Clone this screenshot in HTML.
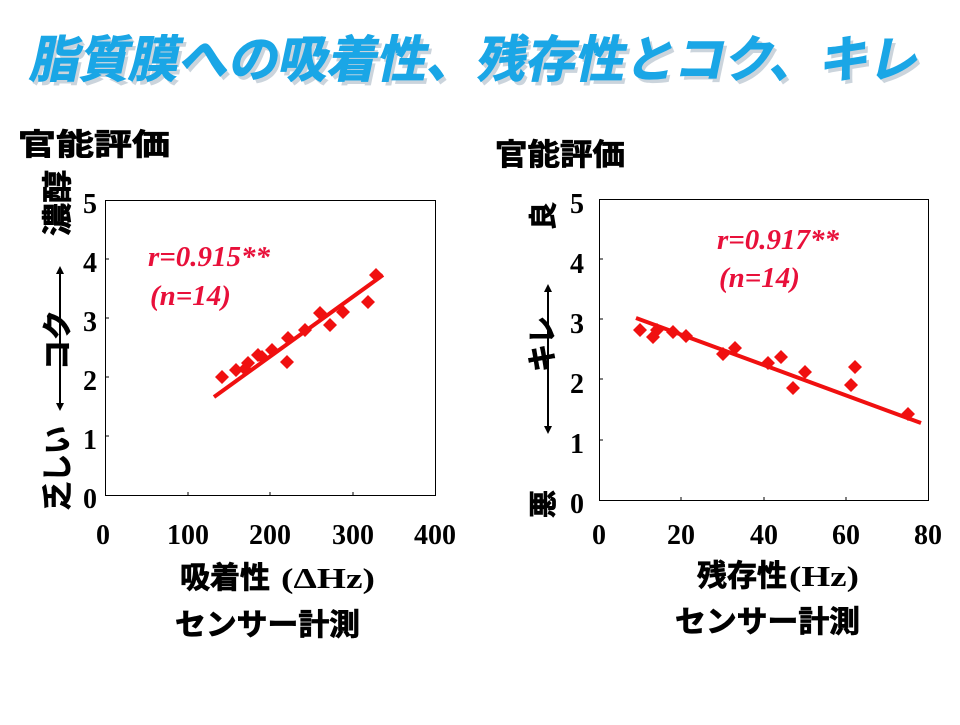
<!DOCTYPE html>
<html><head><meta charset="utf-8"><style>
html,body{margin:0;padding:0;background:#fff;}
</style></head><body>
<svg width="960" height="720" viewBox="0 0 960 720" xmlns="http://www.w3.org/2000/svg">
<rect width="960" height="720" fill="#fff"/>
<g font-family="'Liberation Sans','Noto Sans CJK JP',sans-serif" font-weight="bold">
<g transform="skewX(-12) translate(14,0)">
<text x="33" y="79" font-size="50" fill="#9ab" opacity="0.5" textLength="888" lengthAdjust="spacingAndGlyphs" transform="translate(2,2)">脂質膜への吸着性、残存性とコク、キレ</text>
<text x="31" y="77" font-size="50" fill="#1aa6e6" stroke="#1aa6e6" stroke-width="1" textLength="888" lengthAdjust="spacingAndGlyphs">脂質膜への吸着性、残存性とコク、キレ</text>
</g>
</g>
<g font-family="'Liberation Sans','Noto Sans CJK JP',sans-serif" font-weight="bold" fill="#000" stroke="#000" stroke-width="0.8">
<text x="18" y="155" font-size="30" textLength="152" lengthAdjust="spacingAndGlyphs">官能評価</text>
<text x="495" y="165" font-size="30" textLength="130" lengthAdjust="spacingAndGlyphs">官能評価</text>
<text x="180" y="588" font-size="30" textLength="90" lengthAdjust="spacingAndGlyphs">吸着性</text>
<text x="697" y="586" font-size="30" textLength="90" lengthAdjust="spacingAndGlyphs">残存性</text>
<text x="175" y="635" font-size="30" textLength="185" lengthAdjust="spacingAndGlyphs">センサー計測</text>
<text x="675" y="632" font-size="30" textLength="185" lengthAdjust="spacingAndGlyphs">センサー計測</text>
<text transform="translate(68,236) rotate(-90)" font-size="30" textLength="66" lengthAdjust="spacingAndGlyphs">濃醇</text>
<text transform="translate(68,370) rotate(-90)" font-size="30" textLength="60" lengthAdjust="spacingAndGlyphs">コク</text>
<text transform="translate(68,510) rotate(-90)" font-size="30" textLength="84" lengthAdjust="spacingAndGlyphs">乏しい</text>
<text transform="translate(553,230) rotate(-90)" font-size="28">良</text>
<text transform="translate(553,372) rotate(-90)" font-size="30" textLength="56" lengthAdjust="spacingAndGlyphs">キレ</text>
<text transform="translate(553,518) rotate(-90)" font-size="28">悪</text>
</g>
<g font-family="'Liberation Serif',serif" font-weight="bold" font-size="28" fill="#000">
<text x="281" y="588" font-size="29" textLength="94" lengthAdjust="spacingAndGlyphs">(ΔHz)</text>
<text x="789" y="586" font-size="29" textLength="70" lengthAdjust="spacingAndGlyphs">(Hz)</text>
<g text-anchor="end">
<text x="97" y="213">5</text><text x="97" y="272">4</text><text x="97" y="331">3</text><text x="97" y="390">2</text><text x="97" y="449">1</text><text x="97" y="508">0</text>
<text x="584" y="213">5</text><text x="584" y="273">4</text><text x="584" y="333">3</text><text x="584" y="393">2</text><text x="584" y="453">1</text><text x="584" y="513">0</text>
</g>
<g text-anchor="middle">
<text x="103" y="544">0</text><text x="188" y="544">100</text><text x="270" y="544">200</text><text x="353" y="544">300</text><text x="435" y="544">400</text>
<text x="599" y="544">0</text><text x="681" y="544">20</text><text x="764" y="544">40</text><text x="846" y="544">60</text><text x="928" y="544">80</text>
</g>
</g>
<g stroke="#000" stroke-width="2" fill="#000">
<line x1="60" y1="272" x2="60" y2="405"/>
<polygon points="60,266 56,274 64,274" stroke="none"/><polygon points="60,411 56,403 64,403" stroke="none"/>
<line x1="548" y1="290" x2="548" y2="428"/>
<polygon points="548,284 544,292 552,292" stroke="none"/><polygon points="548,434 544,426 552,426" stroke="none"/>
</g>
<rect x="105.5" y="200.5" width="330" height="295" fill="none" stroke="#000" stroke-width="1"/>
<rect x="599.5" y="199.5" width="329" height="301" fill="none" stroke="#000" stroke-width="1"/>
<g stroke="#000" stroke-width="1">
<line x1="106" y1="259" x2="109" y2="259"/><line x1="106" y1="318" x2="109" y2="318"/><line x1="106" y1="377" x2="109" y2="377"/><line x1="106" y1="436" x2="109" y2="436"/>
<line x1="188" y1="495" x2="188" y2="492"/><line x1="270" y1="495" x2="270" y2="492"/><line x1="353" y1="495" x2="353" y2="492"/>
<line x1="600" y1="259" x2="603" y2="259"/><line x1="600" y1="319" x2="603" y2="319"/><line x1="600" y1="379" x2="603" y2="379"/><line x1="600" y1="440" x2="603" y2="440"/>
<line x1="681" y1="500" x2="681" y2="497"/><line x1="764" y1="500" x2="764" y2="497"/><line x1="846" y1="500" x2="846" y2="497"/>
</g>
<line x1="214" y1="397" x2="383" y2="275" stroke="#f01010" stroke-width="4"/>
<line x1="636" y1="318" x2="921" y2="423" stroke="#f01010" stroke-width="4"/>
<g fill="#f01010">
<path d="M376,268l7,7l-7,7l-7,-7z M368,295l7,7l-7,7l-7,-7z M330,318l7,7l-7,7l-7,-7z M343,305l7,7l-7,7l-7,-7z M320,306l7,7l-7,7l-7,-7z M305,323l7,7l-7,7l-7,-7z M288,331l7,7l-7,7l-7,-7z M287,355l7,7l-7,7l-7,-7z M272,343l7,7l-7,7l-7,-7z M262,350l7,7l-7,7l-7,-7z M258,348l7,7l-7,7l-7,-7z M248,356l7,7l-7,7l-7,-7z M245,362l7,7l-7,7l-7,-7z M236,363l7,7l-7,7l-7,-7z M222,370l7,7l-7,7l-7,-7z"/>
<path d="M640,323l7,7l-7,7l-7,-7z M653,330l7,7l-7,7l-7,-7z M657,323l7,7l-7,7l-7,-7z M673,325l7,7l-7,7l-7,-7z M686,329l7,7l-7,7l-7,-7z M723,347l7,7l-7,7l-7,-7z M735,341l7,7l-7,7l-7,-7z M768,356l7,7l-7,7l-7,-7z M781,350l7,7l-7,7l-7,-7z M793,381l7,7l-7,7l-7,-7z M805,365l7,7l-7,7l-7,-7z M851,378l7,7l-7,7l-7,-7z M855,360l7,7l-7,7l-7,-7z M908,407l7,7l-7,7l-7,-7z"/>
</g>
<g font-family="'Liberation Serif',serif" font-weight="bold" font-style="italic" font-size="29" fill="#e8103a">
<text x="148" y="266">r=0.915**</text>
<text x="150" y="305">(n=14)</text>
<text x="717" y="249">r=0.917**</text>
<text x="719" y="287">(n=14)</text>
</g>
</svg>
</body></html>
